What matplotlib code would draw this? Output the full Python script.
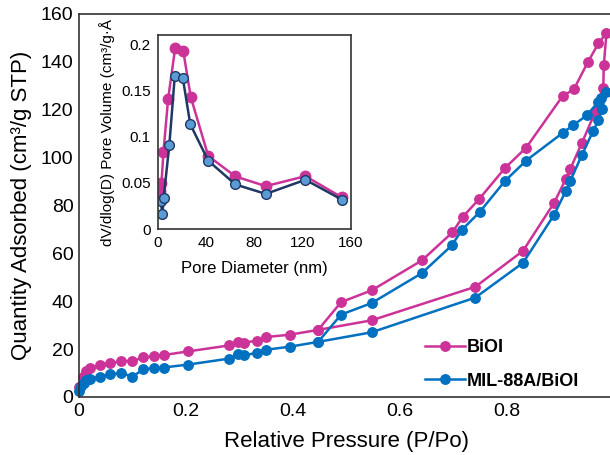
import matplotlib
matplotlib.use("Agg")
import matplotlib.pyplot as plt
import numpy as np

plt.rcParams['font.family'] = ['Liberation Sans', 'DejaVu Sans']

# ---- main isotherm data ----
biol_ads_x = [0.0, 0.007, 0.014, 0.021, 0.04, 0.058, 0.079, 0.1, 0.12, 0.14, 0.158, 0.203,
              0.28, 0.297, 0.309, 0.332, 0.349, 0.394, 0.447, 0.547, 0.741, 0.83, 0.888,
              0.91, 0.918, 0.94, 0.965, 0.98, 0.981, 0.986]
biol_ads_y = [4.0, 8.5, 11.0, 12.0, 13.5, 14.0, 15.0, 15.0, 16.5, 17.0, 17.5, 19.0,
              21.5, 23.0, 22.7, 23.5, 25.0, 26.0, 28.0, 32.0, 46.0, 61.0, 81.0,
              91.0, 95.0, 106.0, 119.0, 129.0, 138.5, 152.0]
biol_des_x = [0.971, 0.951, 0.925, 0.904, 0.836, 0.796, 0.748, 0.717, 0.698, 0.641,
              0.547, 0.49, 0.447]
biol_des_y = [147.6, 139.7, 128.4, 125.6, 104.1, 95.5, 82.6, 75.1, 68.7, 57.0,
              44.5, 39.6, 28.0]

mil_ads_x = [0.0, 0.004, 0.009, 0.014, 0.021, 0.04, 0.058, 0.079, 0.1, 0.12, 0.14, 0.158,
             0.203, 0.28, 0.297, 0.309, 0.332, 0.349, 0.394, 0.447, 0.547, 0.741, 0.83,
             0.888, 0.91, 0.918, 0.94, 0.961, 0.971, 0.978, 0.985]
mil_ads_y = [2.5, 4.5, 6.0, 7.0, 7.5, 8.5, 9.5, 10.0, 8.5, 11.5, 12.0, 12.3,
             13.5, 16.0, 18.0, 17.4, 18.4, 19.7, 21.0, 23.0, 27.0, 41.5, 56.0,
             76.0, 86.0, 90.0, 101.0, 111.0, 115.6, 120.0, 127.4]
mil_des_x = [0.976, 0.97, 0.949, 0.924, 0.904, 0.836, 0.796, 0.749, 0.716, 0.697,
             0.641, 0.547, 0.49, 0.447]
mil_des_y = [125.0, 123.0, 117.5, 113.5, 110.2, 98.7, 90.1, 77.2, 69.8, 63.3,
             51.7, 39.2, 34.4, 23.0]

# ---- inset pore size distribution ----
pore_biol_d = [1.6, 3.2, 4.8, 8.7, 14.5, 21.2, 27.4, 41.9, 64.4, 89.5, 122.3, 152.3]
pore_biol_v = [0.041, 0.0496, 0.083, 0.141, 0.1957, 0.1928, 0.143, 0.079, 0.0569,
               0.0464, 0.0572, 0.0344]
pore_mil_d = [2.5, 4.0, 5.0, 9.7, 14.2, 20.9, 27.0, 41.9, 64.4, 89.5, 122.3, 152.3]
pore_mil_v = [0.030, 0.016, 0.034, 0.0913, 0.1656, 0.163, 0.1134, 0.0739, 0.0482,
              0.038, 0.0533, 0.0319]

main_xticks = [0, 0.2, 0.4, 0.6, 0.8, 1]
main_xticklabels = ['0', '0.2', '0.4', '0.6', '0.8', '1']
main_yticks = [0, 20, 40, 60, 80, 100, 120, 140, 160]
inset_xticks = [0, 40, 80, 120, 160]
inset_yticks = [0, 0.05, 0.1, 0.15, 0.2]
inset_yticklabels = ['0', '0.05', '0.1', '0.15', '0.2']

PINK = '#CC3399'
BLUE = '#0070C0'
NAVY = '#1F3864'
LBLUE = '#5B9BD5'

fig = plt.figure(figsize=(6.1, 4.55), dpi=100)
ax = fig.add_axes([0.1295, 0.1275, 0.877, 0.8425])

ax.plot(biol_ads_x + biol_des_x, biol_ads_y + biol_des_y, '-o', color=PINK,
        lw=1.8, ms=6.8, label='BiOI', clip_on=False)
ax.plot(mil_ads_x + mil_des_x, mil_ads_y + mil_des_y, '-o', color=BLUE,
        lw=1.8, ms=6.8, label='MIL-88A/BiOI', clip_on=False)

ax.set_xlim(0, 1)
ax.set_ylim(0, 160)
ax.set_xticks(main_xticks)
ax.set_xticklabels(main_xticklabels)
ax.set_yticks(main_yticks)
ax.tick_params(length=0, labelsize=14, pad=4)
ax.set_xlabel('Relative Pressure (P/Po)', fontsize=16, labelpad=8)
ax.set_ylabel('Quantity Adsorbed (cm³/g STP)', fontsize=16, labelpad=6)
for s in ax.spines.values():
    s.set_linewidth(1.2)
    s.set_color('#333333')

leg = ax.legend(loc='upper left', bbox_to_anchor=(0.67, 0.29), bbox_transform=fig.transFigure,
                frameon=False, prop={'weight': 'bold', 'size': 13}, handlelength=2.2,
                handletextpad=0.1, labelspacing=0.9)

ins = fig.add_axes([0.2584, 0.4967, 0.317, 0.4263])
ins.plot(pore_biol_d, pore_biol_v, '-o', color=PINK, lw=1.8, ms=7.5, mfc=PINK, mec=PINK)
ins.plot(pore_mil_d, pore_mil_v, '-o', color=NAVY, lw=1.8, ms=7, mfc=LBLUE, mec=NAVY, mew=1.0)
ins.set_xlim(0, 160)
ins.set_ylim(0, 0.21)
ins.set_xticks(inset_xticks)
ins.set_yticks(inset_yticks)
ins.set_yticklabels(inset_yticklabels)
ins.tick_params(length=0, labelsize=11, pad=5)
ins.set_xlabel('Pore Diameter (nm)', fontsize=12, labelpad=8)
ins.set_ylabel('dV/dlog(D) Pore Volume (cm³/g·Å', fontsize=11, labelpad=4)
for s in ins.spines.values():
    s.set_linewidth(1.2)
    s.set_color('#333333')

fig.savefig('out.png', dpi=100)
